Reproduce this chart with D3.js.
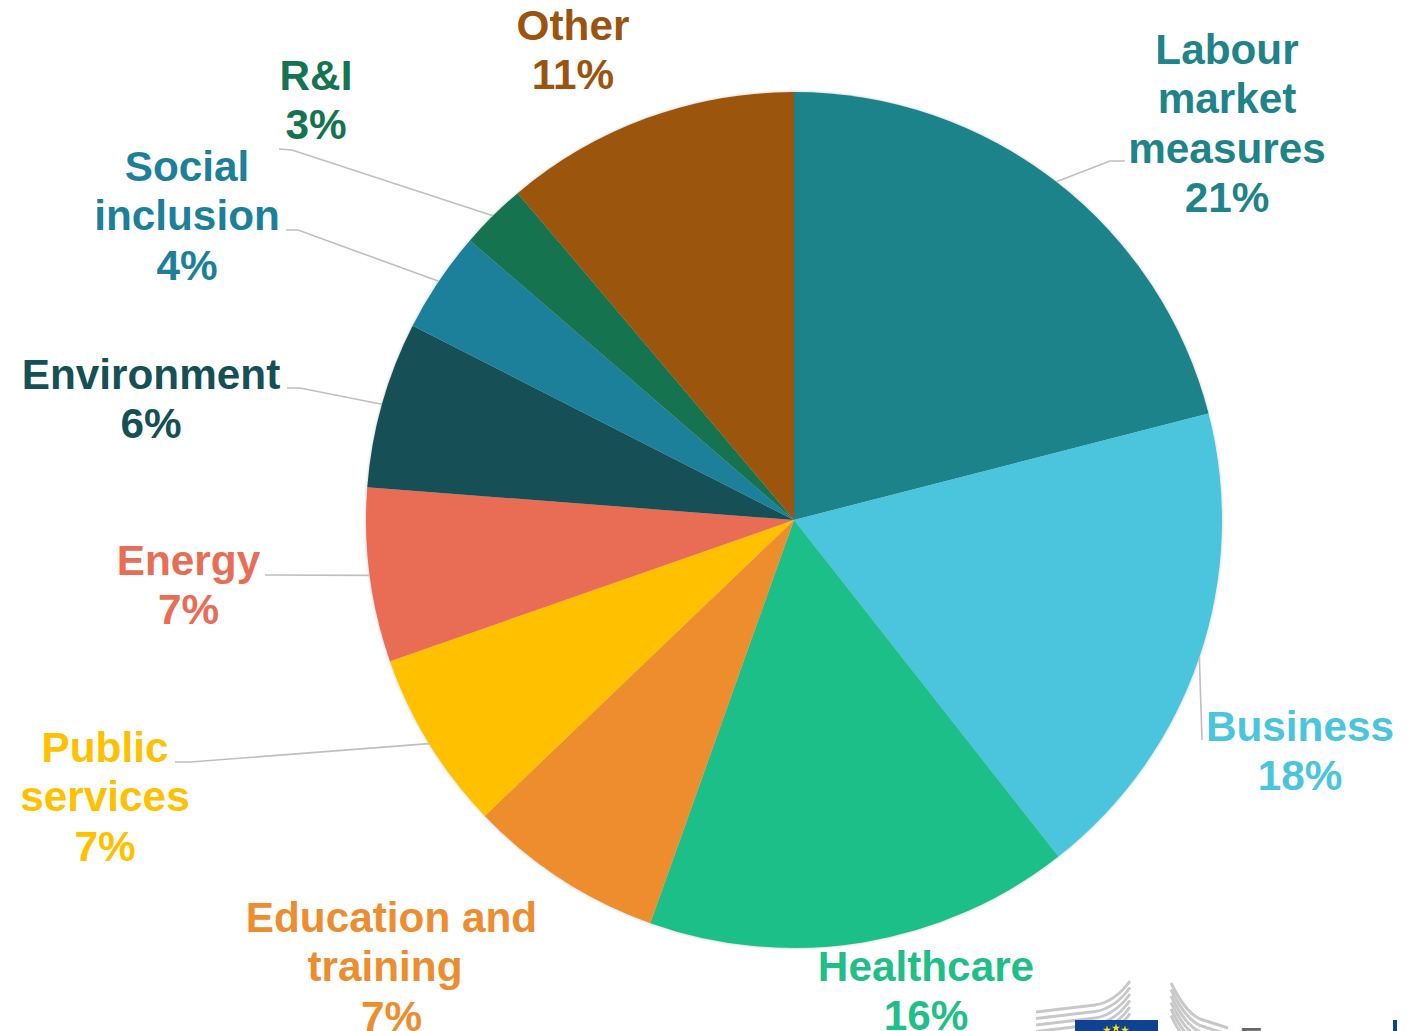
<!DOCTYPE html>
<html>
<head>
<meta charset="utf-8">
<script src="https://cdn.jsdelivr.net/npm/d3@7"></script>
<style>
  html, body { margin: 0; padding: 0; background: #fff; overflow: hidden; }
  svg { display: block; }
  text { font-family: "Liberation Sans", Arial, sans-serif; }
</style>
</head>
<body>
<script>
  var categories = [
    ['Labour', 'market', 'measures'],
    ['Business'],
    ['Healthcare'],
    ['Education and', 'training'],
    ['Public', 'services'],
    ['Energy'],
    ['Environment'],
    ['Social', 'inclusion'],
    ['R&I'],
    ['Other']
  ];
  var values = [21.0, 18.4, 16.05, 7.4, 6.8, 6.57, 6.28, 3.83, 2.5, 11.17];
  var colors = ['#1f838a', '#4bc4dd', '#1fbf87', '#ed8d2f', '#ffc000', '#e96c55', '#155056', '#1d809b', '#147350', '#9b540f'];

  // label centre x and first baseline, same order as categories
  var labelX = [1227, 1300, 926, 391.5, 105, 188.5, 151, 187, 316, 573];
  var labelY = [64, 741, 981, 932, 762, 575, 389, 181, 90, 40];
  // leader lines, from the slice edge through these points (no leader if empty)
  var leaders = [
    [[1110, 161], [1125, 161]],
    [[1202, 740]],
    [],
    [],
    [[190, 762], [175, 762]],
    [[265, 575]],
    [[300, 388], [287, 388]],
    [[298, 230], [286, 230]],
    [[292, 150], [279, 149]],
    []
  ];

  var w = 1421;
  var h = 1031;
  var cx = 794;
  var cy = 520;
  var radius = 428;
  var fontSize = 42.3;
  var lineHeight = 49.4;

  var svg = d3
    .select('body')
    .append('svg')
    .attr('width', w)
    .attr('height', h);

  var shadow = svg
    .append('defs')
    .append('filter')
    .attr('id', 'pie-shadow')
    .attr('x', '-5%')
    .attr('y', '-5%')
    .attr('width', '110%')
    .attr('height', '110%');

  shadow
    .append('feDropShadow')
    .attr('dx', 0)
    .attr('dy', 0)
    .attr('stdDeviation', 1.5)
    .attr('flood-color', '#000')
    .attr('flood-opacity', 0.25);

  var pie = d3
    .pie()
    .sort(null)
    .value(d => d);

  var arcs = pie(values);

  var arc = d3
    .arc()
    .innerRadius(0)
    .outerRadius(radius);

  svg
    .append('g')
    .attr('id', 'slices')
    .attr('transform', `translate(${cx}, ${cy})`)
    .attr('filter', 'url(#pie-shadow)')
    .selectAll('path')
    .data(arcs)
    .enter()
    .append('path')
    .attr('d', arc)
    .attr('fill', (d, i) => colors[i]);

  // leaders start on the pie edge at the middle of their slice
  function edgePoint(d) {
    var a = (d.startAngle + d.endAngle) / 2;
    return [cx + Math.sin(a) * radius, cy - Math.cos(a) * radius];
  }

  var leaderLine = d3.line();

  svg
    .append('g')
    .attr('id', 'leaders')
    .selectAll('path')
    .data(arcs.filter((d, i) => leaders[i].length))
    .enter()
    .append('path')
    .attr('d', d => leaderLine([edgePoint(d)].concat(leaders[d.index])))
    .attr('fill', 'none')
    .attr('stroke', '#bfbfbf')
    .attr('stroke-width', 1.6);

  var labels = svg
    .append('g')
    .attr('id', 'labels')
    .selectAll('text')
    .data(arcs)
    .enter()
    .append('text')
    .attr('text-anchor', 'middle')
    .attr('font-size', fontSize)
    .attr('font-weight', 'bold')
    .attr('fill', (d, i) => colors[i]);

  labels
    .selectAll('tspan')
    .data(d => categories[d.index].concat(Math.round(d.value) + '%').map(t => ({ t: t, i: d.index })))
    .enter()
    .append('tspan')
    .attr('x', d => labelX[d.i] - (d.t === 'training' ? 6.5 : 0))
    .attr('y', (d, j) => labelY[d.i] + j * lineHeight)
    .text(d => d.t);

  // corner of the Commission logo, cut off by the bottom of the page
  var logo = svg.append('g').attr('id', 'logo');

  [0, 6.5, 13, 19.5, 26, 32.5].forEach(function(o) {
    logo
      .append('path')
      .attr('d', `M1036,${1012 + o} L1095,${1005 + o} Q1115,${1002 + o} 1130,${981 + o}`)
      .attr('fill', 'none')
      .attr('stroke', '#c8c8c8')
      .attr('stroke-width', 3);
    logo
      .append('path')
      .attr('d', `M1171,${983 + o} Q1185,${1012 + o} 1200,${1019 + o} L1228,${1028 + o}`)
      .attr('fill', 'none')
      .attr('stroke', '#c8c8c8')
      .attr('stroke-width', 3);
  });

  logo
    .append('rect')
    .attr('x', 1075)
    .attr('y', 1020)
    .attr('width', 83)
    .attr('height', 11)
    .attr('fill', '#0f4392');

  logo
    .selectAll('path.star')
    .data([1107, 1116, 1125])
    .enter()
    .append('path')
    .attr('class', 'star')
    .attr('d', d3.symbol(d3.symbolStar, 22))
    .attr('transform', (d, i) => `translate(${d}, ${i === 1 ? 1028 : 1030})`)
    .attr('fill', '#ffe600');

  logo
    .append('text')
    .attr('x', 1239)
    .attr('y', 1054)
    .attr('font-size', 36)
    .attr('fill', '#666')
    .text('European');

  logo
    .append('rect')
    .attr('x', 1393)
    .attr('y', 1020)
    .attr('width', 4)
    .attr('height', 11)
    .attr('fill', '#0f4392');
</script>
</body>
</html>
